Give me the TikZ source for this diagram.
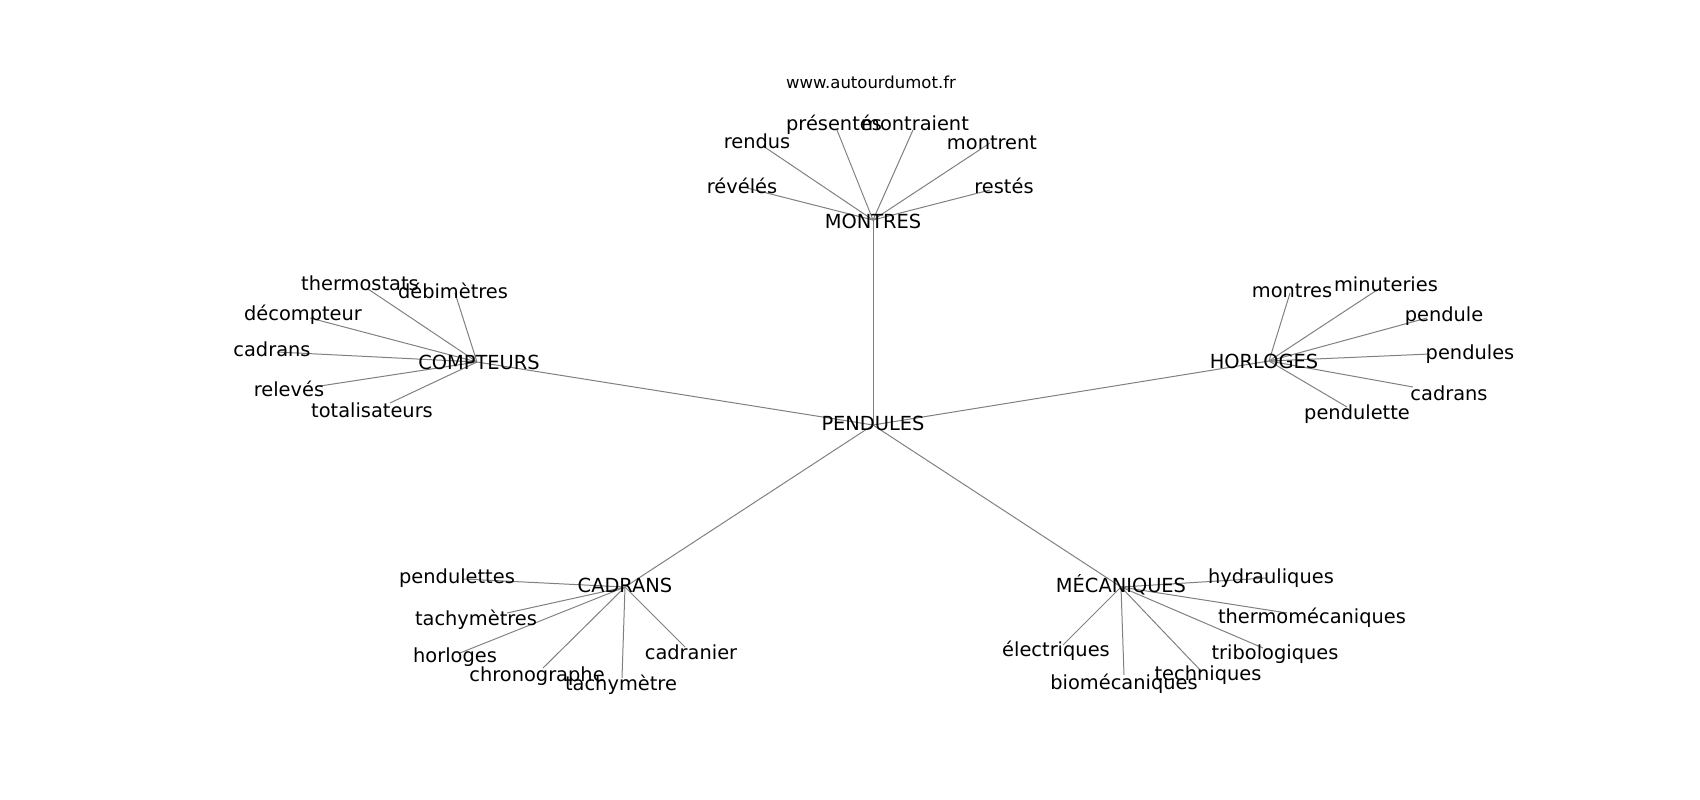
\documentclass[tikz,border=0pt]{standalone}
\usepackage{fontspec}
\setmainfont{DejaVu Sans}
\begin{document}
\begin{tikzpicture}[x=1pt,y=-1pt,
  lbl/.style={inner sep=0pt, anchor=center, yshift=-2pt, font=\fontsize{19.4}{22}\selectfont, text height=14.7pt, text depth=4.7pt},
  ttl/.style={inner sep=0pt, anchor=center, yshift=-1.5pt, font=\fontsize{16.5}{19}\selectfont, text height=12.5pt, text depth=4pt},
  link/.style={draw=black!50, line width=1pt}]
\useasboundingbox (0,0) rectangle (1700,800);
% graph node positions
\coordinate (P) at (873,425);
\coordinate (M) at (873,220);
\coordinate (C) at (477,362);
\coordinate (H) at (1269,361);
\coordinate (A) at (625,587);
\coordinate (K) at (1121,587);
\coordinate (m1) at (747,188);
\coordinate (m2) at (763,146);
\coordinate (m3) at (837,130);
\coordinate (m4) at (913,130);
\coordinate (m5) at (990,143);
\coordinate (m6) at (990,190);
\coordinate (c1) at (368,289);
\coordinate (c2) at (455,293);
\coordinate (c3) at (310,318);
\coordinate (c4) at (277,352);
\coordinate (c5) at (320,386);
\coordinate (c6) at (390,403);
\coordinate (h1) at (1290,293);
\coordinate (h2) at (1377,290);
\coordinate (h3) at (1427,318);
\coordinate (h4) at (1430,354);
\coordinate (h5) at (1413,387);
\coordinate (h6) at (1347,407);
\coordinate (a1) at (463,579);
\coordinate (a2) at (507,613);
\coordinate (a3) at (460,653);
\coordinate (a4) at (543,668);
\coordinate (a5) at (622,678);
\coordinate (a6) at (685,647);
\coordinate (k1) at (1267,578);
\coordinate (k2) at (1287,613);
\coordinate (k3) at (1063,645);
\coordinate (k4) at (1263,648);
\coordinate (k5) at (1202,672);
\coordinate (k6) at (1124,675);
% edges
\foreach \h in {M,C,H,A,K} \draw[link] (P) -- (\h);
\foreach \i in {1,...,6} {
  \draw[link] (M) -- (m\i);
  \draw[link] (C) -- (c\i);
  \draw[link] (H) -- (h\i);
  \draw[link] (A) -- (a\i);
  \draw[link] (K) -- (k\i);
}
% labels
\node[ttl] (title) at (871,83) {www.autourdumot.fr};
\node[lbl] (lP) at (873,423) {PENDULES};
\node[lbl] (lM) at (873,221) {MONTRES};
\node[lbl] (lC) at (479,362) {COMPTEURS};
\node[lbl] (lH) at (1264,361) {HORLOGES};
\node[lbl] (lA) at (625,585) {CADRANS};
\node[lbl] (lK) at (1121,585) {MÉCANIQUES};
\node[lbl] (lm1) at (742,186) {révélés};
\node[lbl] (lm2) at (757,141) {rendus};
\node[lbl] (lm3) at (834,123) {présentés};
\node[lbl] (lm4) at (915,123) {montraient};
\node[lbl] (lm5) at (992,142) {montrent};
\node[lbl] (lm6) at (1004,186) {restés};
\node[lbl] (lc1) at (360,283) {thermostats};
\node[lbl] (lc2) at (453,291) {débimètres};
\node[lbl] (lc3) at (303,313) {décompteur};
\node[lbl] (lc4) at (272,349) {cadrans};
\node[lbl] (lc5) at (289,389) {relevés};
\node[lbl] (lc6) at (372,410) {totalisateurs};
\node[lbl] (lh1) at (1292,290) {montres};
\node[lbl] (lh2) at (1386,284) {minuteries};
\node[lbl] (lh3) at (1444,314) {pendule};
\node[lbl] (lh4) at (1470,352) {pendules};
\node[lbl] (lh5) at (1449,393) {cadrans};
\node[lbl] (lh6) at (1357,412) {pendulette};
\node[lbl] (la1) at (457,576) {pendulettes};
\node[lbl] (la2) at (476,618) {tachymètres};
\node[lbl] (la3) at (455,655) {horloges};
\node[lbl] (la4) at (537,674) {chronographe};
\node[lbl] (la5) at (621,683) {tachymètre};
\node[lbl] (la6) at (691,652) {cadranier};
\node[lbl] (lk1) at (1271,576) {hydrauliques};
\node[lbl] (lk2) at (1312,616) {thermomécaniques};
\node[lbl] (lk3) at (1056,649) {électriques};
\node[lbl] (lk4) at (1275,652) {tribologiques};
\node[lbl] (lk5) at (1208,673) {techniques};
\node[lbl] (lk6) at (1124,682) {biomécaniques};
\end{tikzpicture}
\end{document}
